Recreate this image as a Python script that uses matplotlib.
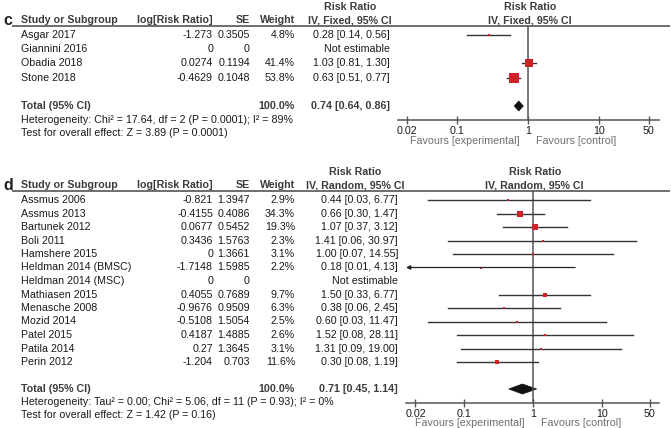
import matplotlib
matplotlib.use('Agg')
import matplotlib.pyplot as plt
from matplotlib.patches import Polygon
import numpy as np

plt.rcParams['font.family'] = ['Liberation Sans', 'DejaVu Sans']

# ---- panel c data (fixed effect) ----
c_studies = ['Asgar 2017', 'Giannini 2016', 'Obadia 2018', 'Stone 2018']
c_logrr = [-1.273, 0, 0.0274, -0.4629]
c_se = [0.3505, 0, 0.1194, 0.1048]
c_weight = [4.8, None, 41.4, 53.8]
c_rr = [0.28, None, 1.03, 0.63]
c_lo = [0.14, None, 0.81, 0.51]
c_hi = [0.56, None, 1.30, 0.77]
c_total = (0.74, 0.64, 0.86)
c_het = 'Heterogeneity: Chi² = 17.64, df = 2 (P = 0.0001); I² = 89%'
c_test = 'Test for overall effect: Z = 3.89 (P = 0.0001)'

# ---- panel d data (random effects) ----
d_studies = ['Assmus 2006', 'Assmus 2013', 'Bartunek 2012', 'Boli 2011',
             'Hamshere 2015', 'Heldman 2014 (BMSC)', 'Heldman 2014 (MSC)',
             'Mathiasen 2015', 'Menasche 2008', 'Mozid 2014', 'Patel 2015',
             'Patila 2014', 'Perin 2012']
d_logrr = [-0.821, -0.4155, 0.0677, 0.3436, 0, -1.7148, 0, 0.4055,
           -0.9676, -0.5108, 0.4187, 0.27, -1.204]
d_se = [1.3947, 0.4086, 0.5452, 1.5763, 1.3661, 1.5985, 0, 0.7689,
        0.9509, 1.5054, 1.4885, 1.3645, 0.703]
d_weight = [2.9, 34.3, 19.3, 2.3, 3.1, 2.2, None, 9.7, 6.3, 2.5, 2.6, 3.1, 11.6]
d_rr = [0.44, 0.66, 1.07, 1.41, 1.00, 0.18, None, 1.50, 0.38, 0.60, 1.52, 1.31, 0.30]
d_lo = [0.03, 0.30, 0.37, 0.06, 0.07, 0.01, None, 0.33, 0.06, 0.03, 0.08, 0.09, 0.08]
d_hi = [6.77, 1.47, 3.12, 30.97, 14.55, 4.13, None, 6.77, 2.45, 11.47, 28.11, 19.00, 1.19]
d_total = (0.71, 0.45, 1.14)
d_het = 'Heterogeneity: Tau² = 0.00; Chi² = 5.06, df = 11 (P = 0.93); I² = 0%'
d_test = 'Test for overall effect: Z = 1.42 (P = 0.16)'

ticks = [0.02, 0.1, 1, 10, 50]
tick_labels = ['0.02', '0.1', '1', '10', '50']

W, H = 671, 428
FS = 7.7
TXT = '#1a1a1a'
HDR = '#3c3c3c'
RED = '#cc2229'
GRAY = '#555555'

fig = plt.figure(figsize=(W / 100, H / 100), dpi=100)
ax = fig.add_axes([0, 0, 1, 1])
ax.set_xlim(0, W)
ax.set_ylim(H, 0)
ax.axis('off')


def panel(letter, method, studies, logrr, se, weight, rr, lo, hi, total,
          het, test, top, step, ci_right, hdr_center, fx0, fx1, one_x, dec, scale):
    # top = y of header line (pixels)
    ax.plot([12, 670], [top, top], color=GRAY, lw=1.2, solid_capstyle='butt')
    yh = top - 6
    ax.text(8, yh, letter, fontsize=11.5, fontweight='bold', ha='center', va='center', color='#222')
    ax.text(21, yh, 'Study or Subgroup', fontsize=FS, fontweight='bold', va='center', color=HDR)
    ax.text(213, yh, 'log[Risk Ratio]', fontsize=FS, fontweight='bold', va='center', ha='right', color=HDR)
    ax.text(250, yh, 'SE', fontsize=FS, fontweight='bold', va='center', ha='right', color=HDR)
    ax.text(295, yh, 'Weight', fontsize=FS, fontweight='bold', va='center', ha='right', color=HDR)
    ax.text(hdr_center, yh, 'IV, %s, 95%% CI' % method, fontsize=FS, fontweight='bold', va='center', ha='center', color=HDR)
    ax.text(hdr_center, yh - 13, 'Risk Ratio', fontsize=FS, fontweight='bold', va='center', ha='center', color=HDR)
    ax.text(one_x + 2, yh, 'IV, %s, 95%% CI' % method, fontsize=FS, fontweight='bold', va='center', ha='center', color=HDR)
    ax.text(one_x + 2, yh - 13, 'Risk Ratio', fontsize=FS, fontweight='bold', va='center', ha='center', color=HDR)

    ys = top + 9 + step * np.arange(len(studies))
    for i, y in enumerate(ys):
        ax.text(21, y, studies[i], fontsize=FS, va='center', color=TXT)
        ax.text(213, y, '%g' % logrr[i], fontsize=FS, va='center', ha='right', color=TXT)
        ax.text(250, y, '%g' % se[i], fontsize=FS, va='center', ha='right', color=TXT)
        if weight[i] is not None:
            ax.text(295, y, '%.1f%%' % weight[i], fontsize=FS, va='center', ha='right', color=TXT)
            ax.text(ci_right, y, '%.2f [%.2f, %.2f]' % (rr[i], lo[i], hi[i]),
                    fontsize=FS, va='center', ha='right', color=TXT)
        else:
            ax.text(ci_right, y, 'Not estimable', fontsize=FS, va='center', ha='right', color=TXT)

    y_tot = ys[-1] + 2 * step
    ax.text(21, y_tot, 'Total (95% CI)', fontsize=FS, fontweight='bold', va='center', color=HDR)
    ax.text(295, y_tot, '100.0%', fontsize=FS, fontweight='bold', va='center', ha='right', color=HDR)
    ax.text(ci_right, y_tot, '%.2f [%.2f, %.2f]' % total, fontsize=FS, fontweight='bold',
            va='center', ha='right', color=HDR)
    y_het = y_tot + step - 0.5
    ax.text(21, y_het, het, fontsize=FS, va='center', color=TXT)
    ax.text(21, y_het + 12.8, test, fontsize=FS, va='center', color=TXT)

    # forest plot axes, y in pixel units
    y_axis = y_het + 0.5
    fa = fig.add_axes([fx0 / W, 1 - y_axis / H, (fx1 - fx0) / W, (y_axis - top) / H])
    fa.set_xscale('log')
    fa.set_xlim(10 ** ((fx0 - one_x) / dec), 10 ** ((fx1 - one_x) / dec))
    fa.set_ylim(y_axis, top)
    fa.patch.set_alpha(0)
    for s in ['top', 'left', 'right']:
        fa.spines[s].set_visible(False)
    fa.spines['bottom'].set_color(GRAY)
    fa.spines['bottom'].set_linewidth(1.1)
    fa.set_yticks([])
    fa.set_xticks(ticks)
    fa.set_xticklabels(tick_labels)
    fa.xaxis.set_minor_locator(matplotlib.ticker.NullLocator())
    fa.tick_params(axis='x', direction='inout', length=6, width=1, color=GRAY,
                   labelsize=FS, labelcolor=TXT, pad=1.5)
    fa.axvline(1, color=GRAY, lw=1.1)
    xmin = fa.get_xlim()[0]
    for i, y in enumerate(ys):
        if weight[i] is None:
            continue
        if lo[i] < xmin:
            fa.annotate('', xy=(xmin, y), xytext=(hi[i], y),
                        arrowprops=dict(arrowstyle='-|>', color='#222', lw=0.9,
                                        mutation_scale=6, shrinkA=0, shrinkB=0))
        else:
            fa.plot([lo[i], hi[i]], [y, y], color='#333333', lw=1.0)
        side = max(scale * np.sqrt(weight[i]), 2.4)
        fa.plot(rr[i], y, marker='s', color=RED, markersize=side * 0.72, markeredgewidth=0)
    t, tl, th = total
    hh = 5
    fa.add_patch(Polygon([[tl, y_tot], [t, y_tot - hh], [th, y_tot], [t, y_tot + hh]],
                         closed=True, facecolor='#111', edgecolor='#111', lw=0.5))

    ax.text(one_x - 8, y_axis + 20.5, 'Favours [experimental]', fontsize=FS, va='center', ha='right', color='#6e6e6e')
    ax.text(one_x + 8, y_axis + 20.5, 'Favours [control]', fontsize=FS, va='center', ha='left', color='#6e6e6e')


panel('c', 'Fixed', c_studies, c_logrr, c_se, c_weight, c_rr, c_lo, c_hi, c_total,
      c_het, c_test, top=26, step=14.2, ci_right=390, hdr_center=350,
      fx0=398, fx1=659, one_x=528, dec=71, scale=1.25)
panel('d', 'Random', d_studies, d_logrr, d_se, d_weight, d_rr, d_lo, d_hi, d_total,
      d_het, d_test, top=191, step=13.5, ci_right=398, hdr_center=355,
      fx0=406, fx1=659, one_x=532.7, dec=69, scale=1.15)

fig.savefig('out.png', dpi=100, facecolor='white')
